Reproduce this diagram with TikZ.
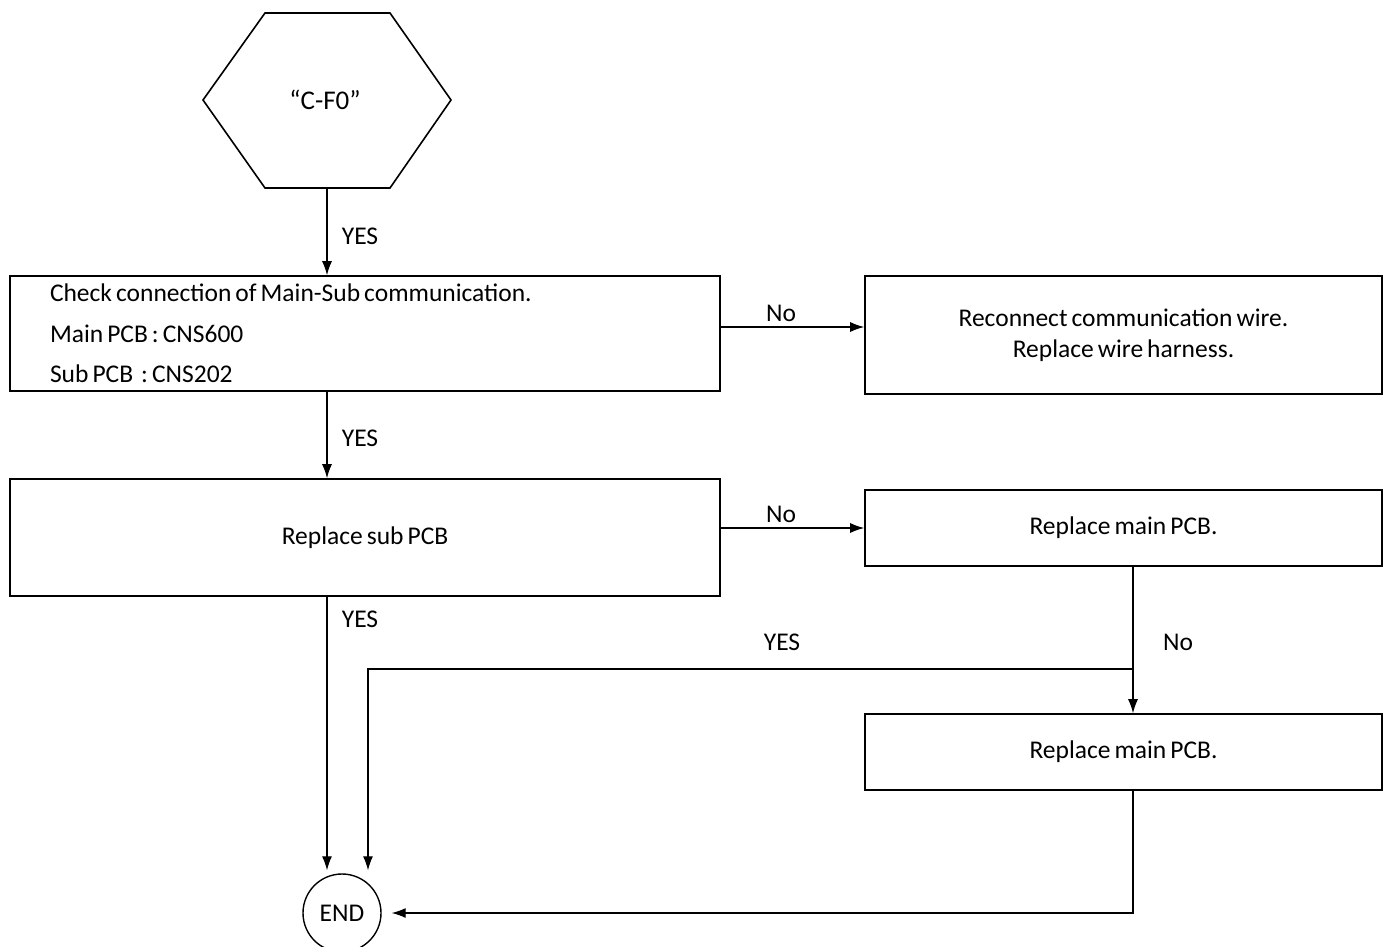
\documentclass[tikz,border=0pt]{standalone}
\usepackage{fontspec}
\setmainfont{Carlito}[WordSpace=0.7]
\usetikzlibrary{arrows.meta,calc}
\newcommand{\fs}{\fontsize{25.5}{40.5}\selectfont}
\begin{document}
\begin{tikzpicture}[x=1pt,y=-1pt,
  box/.style={draw,line width=1.6pt,rectangle,inner sep=0pt,font=\fs,align=center},
  conn/.style={line width=1.2pt,-{Latex[length=14pt,width=10pt]}},
  lbl/.style={font=\fs,inner sep=0pt}]
\useasboundingbox (0,0) rectangle (1387,947);
% start hexagon
\draw[line width=1.6pt] (265,13) -- (390,13) -- (451,100) -- (390,188) -- (265,188) -- (203,100) -- cycle;
\node[lbl,font=\fontsize{27}{32}\selectfont] (hex) at (325,100) {“C-F0”};
\coordinate (hexb) at (327,188);
% boxes
\node[box,minimum width=710pt,minimum height=115pt,text width=630pt,inner xsep=40pt,align=flush left] (b1) at (365,333.5)
  {\spaceskip=0pt\xspaceskip=0pt\relax Check connection of Main-Sub communication.\\Main PCB : CNS600\\Sub PCB\ \ : CNS202};
\node[box,minimum width=517pt,minimum height=118pt,font=\fontsize{25.5}{31}\selectfont] (b2) at (1123.5,335)
  {Reconnect communication wire.\\Replace wire harness.};
\node[box,minimum width=710pt,minimum height=117pt] (b3) at (365,537.5) {Replace sub PCB};
\node[box,minimum width=517pt,minimum height=76pt] (b4) at (1123.5,528) {Replace main PCB.};
\node[box,minimum width=517pt,minimum height=76pt] (b5) at (1123.5,752) {Replace main PCB.};
\node[draw,circle,line width=1.4pt,minimum size=78pt,inner sep=0pt,font=\fs] (endn) at (342,913) {END};
% helper coordinates
\coordinate (c1) at ($(b1.east)+(0,-6.5)$);
\coordinate (c3) at ($(b3.east)+(0,-9.5)$);
\coordinate (j) at (1133,669);
\coordinate (ea) at ($(endn.north)+(-15,-3)$);
\coordinate (eb) at ($(endn.north)+(26,-3)$);
% connectors
\draw[conn] (hexb) -- (hexb |- b1.north);
\draw[conn] (b1.south -| hexb) -- (b3.north -| hexb);
\draw[conn] (b3.south -| hexb) -- (ea);
\draw[conn] (c1) -- (c1 -| b2.west);
\draw[conn] (c3) -- (c3 -| b4.west);
\draw[conn] (b4.south -| j) -- (b5.north -| j);
\draw[conn] (j) -| (eb);
\draw[conn,shorten >=10pt] (b5.south -| j) |- (endn.east);
% labels
\node[lbl] (l1) at (360,236) {YES};
\node[lbl] (l2) at (360,438) {YES};
\node[lbl] (l3) at (360,619) {YES};
\node[lbl] (l4) at (781,313) {No};
\node[lbl] (l5) at (781,514) {No};
\node[lbl] (l6) at (782,642) {YES};
\node[lbl] (l7) at (1178,642) {No};
\end{tikzpicture}
\end{document}
